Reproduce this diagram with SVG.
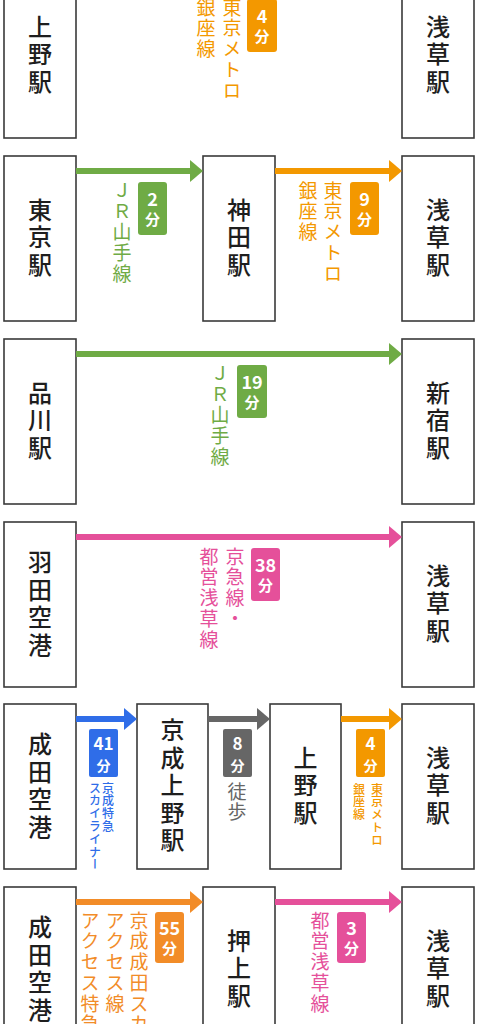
<svg xmlns="http://www.w3.org/2000/svg" width="478" height="1024" viewBox="0 0 478 1024">
<style>
.box{fill:#fff;stroke:#3a3a3a;stroke-width:1.6}
.st{font-family:"Noto Sans CJK JP","Noto Sans",sans-serif;font-size:24px;font-weight:500;fill:#1e1e1e;writing-mode:vertical-rl;text-orientation:upright;letter-spacing:3.5px;text-anchor:middle}
.lb{font-family:"Noto Sans CJK JP","Noto Sans",sans-serif;font-size:19px;font-weight:400;writing-mode:vertical-rl;text-orientation:upright;letter-spacing:1.7px}
.sm{font-family:"Noto Sans CJK JP","Noto Sans",sans-serif;font-size:12px;font-weight:500;writing-mode:vertical-rl;text-orientation:upright;letter-spacing:0.8px}
.bn{font-family:"Noto Sans CJK JP","Noto Sans",sans-serif;font-size:18px;font-weight:700;fill:#fff;text-anchor:middle}
.bn2{font-family:"Noto Sans CJK JP","Noto Sans",sans-serif;font-size:17px;font-weight:700;fill:#fff;text-anchor:middle}
.bf{font-family:"Noto Sans CJK JP","Noto Sans",sans-serif;font-size:15px;font-weight:700;fill:#fff;text-anchor:middle}
.bf2{font-family:"Noto Sans CJK JP","Noto Sans",sans-serif;font-size:14px;font-weight:700;fill:#fff;text-anchor:middle}
.g{fill:#6fab45}.o{fill:#f39800}.o2{fill:#f28c28}.p{fill:#e5509a}.b{fill:#2f6de8}.k{fill:#666}
.lg{stroke:#6fab45}.lo{stroke:#f39800}.lo2{stroke:#f28c28}.lp{stroke:#e5509a}.lbl{stroke:#2f6de8}.lk{stroke:#666}
.ln{stroke-width:6;fill:none}
</style>

<!-- Row 1 -->
<g id="r1-ueno"><rect class="box" x="4" y="-27" width="72" height="165"/><text class="st" x="40" y="56">上野駅</text></g>
<g id="r1-asakusa"><rect class="box" x="402" y="-27" width="72" height="165"/><text class="st" x="438" y="56">浅草駅</text></g>

<!-- Row 2 -->
<g id="r2-tokyo"><rect class="box" x="4" y="156" width="72" height="165"/><text class="st" x="40" y="239">東京駅</text></g>
<g id="r2-kanda"><rect class="box" x="203" y="156" width="72" height="165"/><text class="st" x="239" y="239">神田駅</text></g>
<g id="r2-asakusa"><rect class="box" x="402" y="156" width="72" height="165"/><text class="st" x="438" y="239">浅草駅</text></g>

<!-- Row 3 -->
<g id="r3-shinagawa"><rect class="box" x="4" y="339" width="72" height="165"/><text class="st" x="40" y="422">品川駅</text></g>
<g id="r3-shinjuku"><rect class="box" x="402" y="339" width="72" height="165"/><text class="st" x="438" y="422">新宿駅</text></g>

<!-- Row 4 -->
<g id="r4-haneda"><rect class="box" x="4" y="522" width="72" height="165"/><text class="st" x="40" y="605">羽田空港</text></g>
<g id="r4-asakusa"><rect class="box" x="402" y="522" width="72" height="165"/><text class="st" x="438" y="605">浅草駅</text></g>

<!-- Row 5 -->
<g id="r5-narita"><rect class="box" x="4" y="704" width="72" height="165"/><text class="st" x="40" y="787">成田空港</text></g>
<g id="r5-keiseiueno"><rect class="box" x="137" y="704" width="71" height="165"/><text class="st" x="172.5" y="787">京成上野駅</text></g>
<g id="r5-ueno"><rect class="box" x="270" y="704" width="71" height="165"/><text class="st" x="305.5" y="787">上野駅</text></g>
<g id="r5-asakusa"><rect class="box" x="402" y="704" width="72" height="165"/><text class="st" x="438" y="787">浅草駅</text></g>

<!-- Row 6 -->
<g id="r6-narita"><rect class="box" x="4" y="887" width="72" height="165"/><text class="st" x="40" y="970">成田空港</text></g>
<g id="r6-oshiage"><rect class="box" x="203" y="887" width="72" height="165"/><text class="st" x="239" y="970">押上駅</text></g>
<g id="r6-asakusa"><rect class="box" x="402" y="887" width="72" height="165"/><text class="st" x="438" y="970">浅草駅</text></g>

<g id="connectors">
  <line class="ln lo" x1="76" y1="-12" x2="391" y2="-12"/><polygon class="o" points="390,-23 402,-12 390,-1"/>
  <line class="ln lg" x1="76" y1="171" x2="192" y2="171"/><polygon class="g" points="190,160 203,171 190,182"/>
  <line class="ln lo" x1="275" y1="171" x2="391" y2="171"/><polygon class="o" points="389,160 402,171 389,182"/>
  <line class="ln lg" x1="76" y1="354" x2="391" y2="354"/><polygon class="g" points="389,343 402,354 389,365"/>
  <line class="ln lp" x1="76" y1="537" x2="391" y2="537"/><polygon class="p" points="389,526 402,537 389,548"/>
  <line class="ln lbl" x1="76" y1="719" x2="126" y2="719"/><polygon class="b" points="124,708 137,719 124,730"/>
  <line class="ln lk" x1="208" y1="719" x2="259" y2="719"/><polygon class="k" points="257,708 270,719 257,730"/>
  <line class="ln lo" x1="341" y1="719" x2="391" y2="719"/><polygon class="o" points="389,708 402,719 389,730"/>
  <line class="ln lo2" x1="76" y1="902" x2="192" y2="902"/><polygon class="o2" points="190,891 203,902 190,913"/>
  <line class="ln lp" x1="275" y1="902" x2="391" y2="902"/><polygon class="p" points="389,891 402,902 389,913"/>
</g>

<!-- Labels -->
<g id="label-r1">
  <rect class="o" x="247" y="-1" width="30" height="53" rx="3"/>
  <text class="bn" x="262" y="23">4</text><text class="bf" x="262" y="42">分</text>
  <text class="lb o" x="232" y="-2">東京メトロ</text>
  <text class="lb o" x="206" y="-2">銀座線</text>
</g>
<g id="label-r2a">
  <rect class="g" x="138" y="182" width="29" height="53" rx="3"/>
  <text class="bn" x="152.5" y="206">2</text><text class="bf" x="152.5" y="225">分</text>
  <text class="lb g" x="122" y="181">ＪＲ山手線</text>
</g>
<g id="label-r2b">
  <rect class="o" x="350" y="182" width="29" height="53" rx="3"/>
  <text class="bn" x="364.5" y="206">9</text><text class="bf" x="364.5" y="225">分</text>
  <text class="lb o" x="333" y="181">東京メトロ</text>
  <text class="lb o" x="308" y="181">銀座線</text>
</g>
<g id="label-r3">
  <rect class="g" x="237" y="365" width="30" height="53" rx="3"/>
  <text class="bn" x="252" y="389">19</text><text class="bf" x="252" y="408">分</text>
  <text class="lb g" x="220" y="364">ＪＲ山手線</text>
</g>
<g id="label-r4">
  <rect class="p" x="251" y="548" width="29" height="53" rx="3"/>
  <text class="bn" x="265.5" y="572">38</text><text class="bf" x="265.5" y="591">分</text>
  <text class="lb p" x="235" y="547">京急線・</text>
  <text class="lb p" x="209" y="547">都営浅草線</text>
</g>
<g id="label-r5a">
  <rect class="b" x="89" y="729" width="29" height="48" rx="2"/>
  <text class="bn2" x="103.5" y="750">41</text><text class="bf2" x="103.5" y="771">分</text>
  <text class="sm b" x="108" y="782">京成特急</text>
  <text class="sm b" x="95" y="782">スカイライナー</text>
</g>
<g id="label-r5b">
  <rect class="k" x="223" y="729" width="29" height="48" rx="2"/>
  <text class="bn2" x="237.5" y="750">8</text><text class="bf2" x="237.5" y="771">分</text>
  <text class="lb k" x="237" y="782">徒歩</text>
</g>
<g id="label-r5c">
  <rect class="o" x="356" y="729" width="29" height="48" rx="2"/>
  <text class="bn2" x="370.5" y="750">4</text><text class="bf2" x="370.5" y="771">分</text>
  <text class="sm o" x="377" y="783">東京メトロ</text>
  <text class="sm o" x="359" y="783">銀座線</text>
</g>
<g id="label-r6a">
  <rect class="o2" x="155" y="912" width="29" height="51" rx="3"/>
  <text class="bn" x="169.5" y="935">55</text><text class="bf" x="169.5" y="954">分</text>
  <text class="lb o2" x="139" y="911">京成成田スカ</text>
  <text class="lb o2" x="115" y="911">アクセス線</text>
  <text class="lb o2" x="90" y="911">アクセス特急</text>
</g>
<g id="label-r6b">
  <rect class="p" x="337" y="912" width="29" height="51" rx="3"/>
  <text class="bn" x="351.5" y="935">3</text><text class="bf" x="351.5" y="954">分</text>
  <text class="lb p" x="320" y="911">都営浅草線</text>
</g>
</svg>
